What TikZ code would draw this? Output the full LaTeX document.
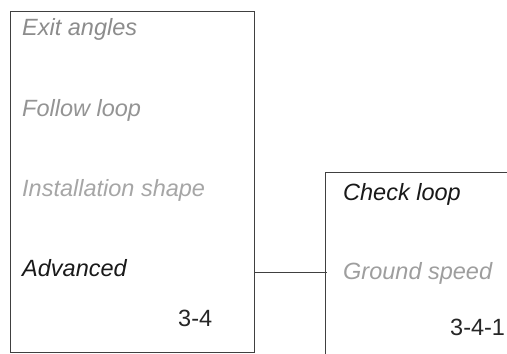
\documentclass[tikz,border=0pt]{standalone}
\usepackage{fontspec}
\setmainfont{Liberation Sans}
\begin{document}
\begin{tikzpicture}[x=1pt,y=-1pt,
  lbl/.style={anchor=base west,inner sep=0pt,font=\fontsize{23.5}{28}\selectfont\itshape},
  num/.style={anchor=base west,inner sep=0pt,font=\fontsize{23.5}{28}\selectfont,text=black!85},
  frame/.style={draw=black!75,line width=1.2pt},
  link/.style={draw=black!75,line width=1.1pt}]
\clip (0,0) rectangle (507,354);
\fill[white] (0,0) rectangle (507,354);
% left box
\node[frame,minimum width=244pt,minimum height=341pt,inner sep=0pt,anchor=north west] (leftbox) at (10,11) {};
% right box (extends past the picture edge)
\node[frame,minimum width=200pt,minimum height=200pt,inner sep=0pt,anchor=north west] (rightbox) at (325,172) {};
% texts
\node[lbl,text=black!45] (t1) at (22,35.7) {Exit angles};
\node[lbl,text=black!42] (t2) at (22,116) {Follow loop};
\node[lbl,text=black!35] (t3) at (22,196.7) {Installation shape};
\node[lbl,text=black!90] (t4) at (22,276) {Advanced};
\node[num] (n1) at (178,326) {3-4};
\node[lbl,text=black!90] (t5) at (343,200) {Check loop};
\node[lbl,text=black!38] (t6) at (343,279) {Ground speed};
\node[num] (n2) at (450,335) {3-4-1};
% connector
\coordinate (c1) at (leftbox.east |- 0,272.5);
\coordinate (c2) at (327,272.5);
\draw[link] (c1) -- (c2);
\end{tikzpicture}
\end{document}
